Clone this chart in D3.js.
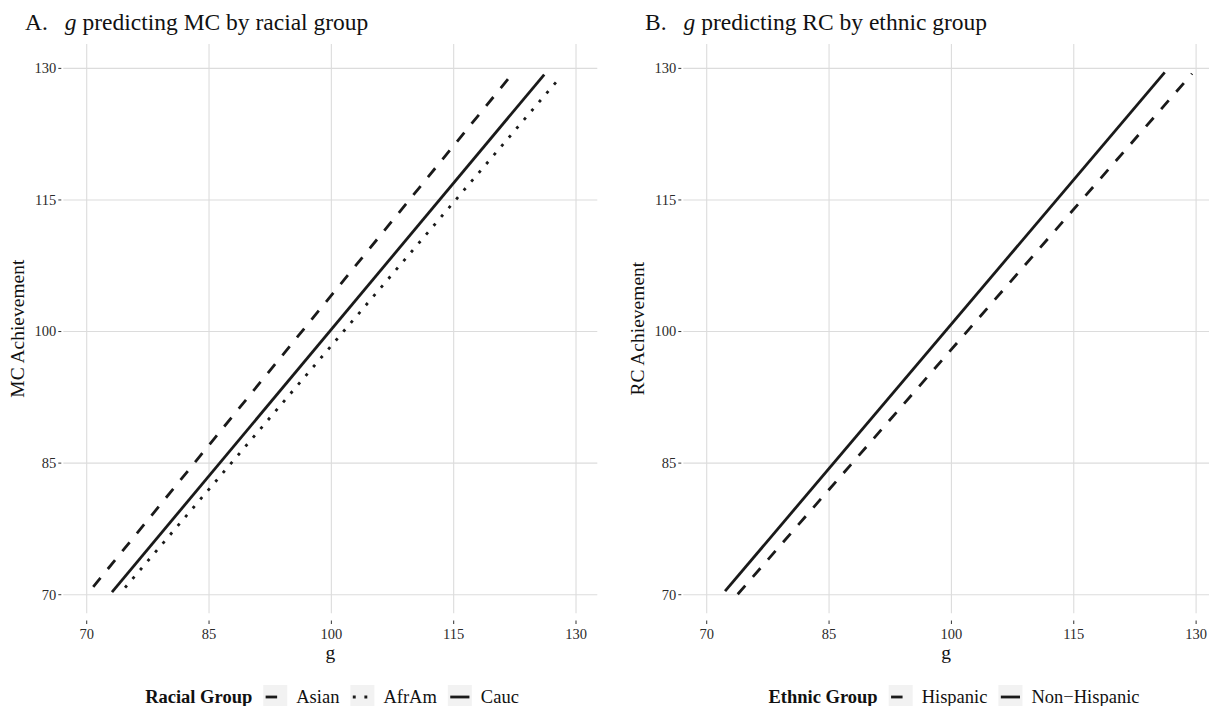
<!DOCTYPE html>
<html>
<head>
<meta charset="utf-8">
<script src="https://cdn.jsdelivr.net/npm/d3@7"></script>
<style>
  body { margin: 0; background: #fff; }
  svg { display: block; font-family: "Liberation Serif", "DejaVu Serif", serif; }
</style>
</head>
<body>
<div id="chart"></div>
<script>
const width = 1218;
const height = 706;

// tick values shared by both panels
const xTicks = [70, 85, 100, 115, 130];
const yTicks = [70, 85, 100, 115, 130];

// panel A: g predicting MC, end points of each fitted line [g, achievement]
const mcGroups = ["Asian", "AfrAm", "Cauc"];
const mcStart = [[70.8, 70.9], [74.7, 70.8], [73.1, 70.3]];
const mcEnd = [[122.3, 129.5], [127.8, 128.7], [126.1, 129.3]];

// panel B: g predicting RC
const rcGroups = ["Hispanic", "Non\u2212Hispanic"];
const rcStart = [[73.8, 70.05], [72.25, 70.4]];
const rcEnd = [[129.5, 129.4], [126.15, 129.55]];

const dashes = {
    dashed: "11.5,11.5",
    dotted: "2.9,8.7",
    solid: null
};

const svg = d3.create("svg")
    .attr("width", width)
    .attr("height", height);

function drawPanel(p) {
    const x = d3.scaleLinear().domain(p.xDomain).range(p.xRange);
    const y = d3.scaleLinear().domain([67.88, 132.78]).range([613.3, 44]);
    const g = svg.append("g");

    // grid
    g.selectAll(".vgrid")
        .data(xTicks)
        .enter()
        .append("line")
        .attr("x1", d => x(d)).attr("x2", d => x(d))
        .attr("y1", y.range()[1]).attr("y2", y.range()[0])
        .attr("stroke", "#dcdcdc").attr("stroke-width", 1.1);

    g.selectAll(".hgrid")
        .data(yTicks)
        .enter()
        .append("line")
        .attr("x1", x.range()[0]).attr("x2", x.range()[1])
        .attr("y1", d => y(d)).attr("y2", d => y(d))
        .attr("stroke", "#dcdcdc").attr("stroke-width", 1.1);

    // y ticks + labels
    g.selectAll(".ytick")
        .data(yTicks)
        .enter()
        .append("line")
        .attr("x1", x.range()[0] - 5).attr("x2", x.range()[0] - 2)
        .attr("y1", d => y(d)).attr("y2", d => y(d))
        .attr("stroke", "#333").attr("stroke-width", 1);

    g.selectAll(".ylab")
        .data(yTicks)
        .enter()
        .append("text")
        .attr("x", x.range()[0] - 7)
        .attr("y", d => y(d))
        .attr("dy", "0.34em")
        .attr("text-anchor", "end")
        .attr("font-size", 14.5)
        .attr("fill", "#2b2b2b")
        .text(d => d);

    // x ticks + labels
    g.selectAll(".xtick")
        .data(xTicks)
        .enter()
        .append("line")
        .attr("x1", d => x(d)).attr("x2", d => x(d))
        .attr("y1", 620.5).attr("y2", 624)
        .attr("stroke", "#333").attr("stroke-width", 1);

    g.selectAll(".xlab")
        .data(xTicks)
        .enter()
        .append("text")
        .attr("x", d => x(d))
        .attr("y", 638.5)
        .attr("text-anchor", "middle")
        .attr("font-size", 14.5)
        .attr("fill", "#2b2b2b")
        .text(d => d);

    // axis titles
    g.append("text")
        .attr("x", (x.range()[0] + x.range()[1]) / 2)
        .attr("y", 659)
        .attr("text-anchor", "middle")
        .attr("font-size", 19.5)
        .attr("fill", "#111")
        .text("g");

    g.append("text")
        .attr("transform", `translate(${p.yTitleX},${(y.range()[0] + y.range()[1]) / 2}) rotate(-90)`)
        .attr("text-anchor", "middle")
        .attr("font-size", 19.5)
        .attr("fill", "#111")
        .text(p.yTitle);

    // title
    const t = svg.append("text")
        .attr("x", p.titleX)
        .attr("y", 30)
        .attr("font-size", 23.5)
        .attr("fill", "#111");
    t.append("tspan").text(p.letter);
    t.append("tspan").attr("dx", 17).attr("font-style", "italic").text("g");
    t.append("tspan").text(" " + p.title);

    // regression lines
    p.groups.forEach((name, i) => {
        g.append("line")
            .attr("x1", x(p.start[i][0])).attr("y1", y(p.start[i][1]))
            .attr("x2", x(p.end[i][0])).attr("y2", y(p.end[i][1]))
            .attr("stroke", "#1a1a1a")
            .attr("stroke-width", 2.8)
            .attr("stroke-dasharray", dashes[p.types[i]]);
    });

    // legend, centered under the panel
    const leg = svg.append("g");
    let cx = 0;
    const lt = leg.append("text")
        .attr("x", cx).attr("y", 697).attr("dy", "0.34em")
        .attr("font-size", 18.5).attr("font-weight", "bold").attr("fill", "#111")
        .text(p.legendTitle);
    cx += lt.node().getComputedTextLength() + 11;

    p.groups.forEach((name, i) => {
        leg.append("rect")
            .attr("x", cx).attr("y", 685)
            .attr("width", 24).attr("height", 24)
            .attr("fill", "#f2f2f2");
        leg.append("line")
            .attr("x1", cx + 2.4).attr("x2", cx + 21.6)
            .attr("y1", 697).attr("y2", 697)
            .attr("stroke", "#1a1a1a")
            .attr("stroke-width", 2.8)
            .attr("stroke-dasharray", dashes[p.types[i]]);
        cx += 24 + 9;
        const lab = leg.append("text")
            .attr("x", cx).attr("y", 697).attr("dy", "0.34em")
            .attr("font-size", 18.5).attr("fill", "#111")
            .text(name);
        cx += lab.node().getComputedTextLength() + 11;
    });
    cx -= 11;
    leg.attr("transform", `translate(${p.legendCenter - cx / 2},0)`);
}

document.getElementById("chart").append(svg.node());

drawPanel({
    xDomain: [67.13, 132.61], xRange: [63.3, 597.3],
    letter: "A.", title: "predicting MC by racial group", titleX: 25,
    yTitle: "MC Achievement", yTitleX: 24,
    groups: mcGroups, start: mcStart, end: mcEnd,
    types: ["dashed", "dotted", "solid"],
    legendTitle: "Racial Group", legendCenter: 332
});

drawPanel({
    xDomain: [67.13, 131.58], xRange: [683.3, 1209],
    letter: "B.", title: "predicting RC by ethnic group", titleX: 645,
    yTitle: "RC Achievement", yTitleX: 644,
    groups: rcGroups, start: rcStart, end: rcEnd,
    types: ["dashed", "solid"],
    legendTitle: "Ethnic Group", legendCenter: 954
});
</script>
</body>
</html>
